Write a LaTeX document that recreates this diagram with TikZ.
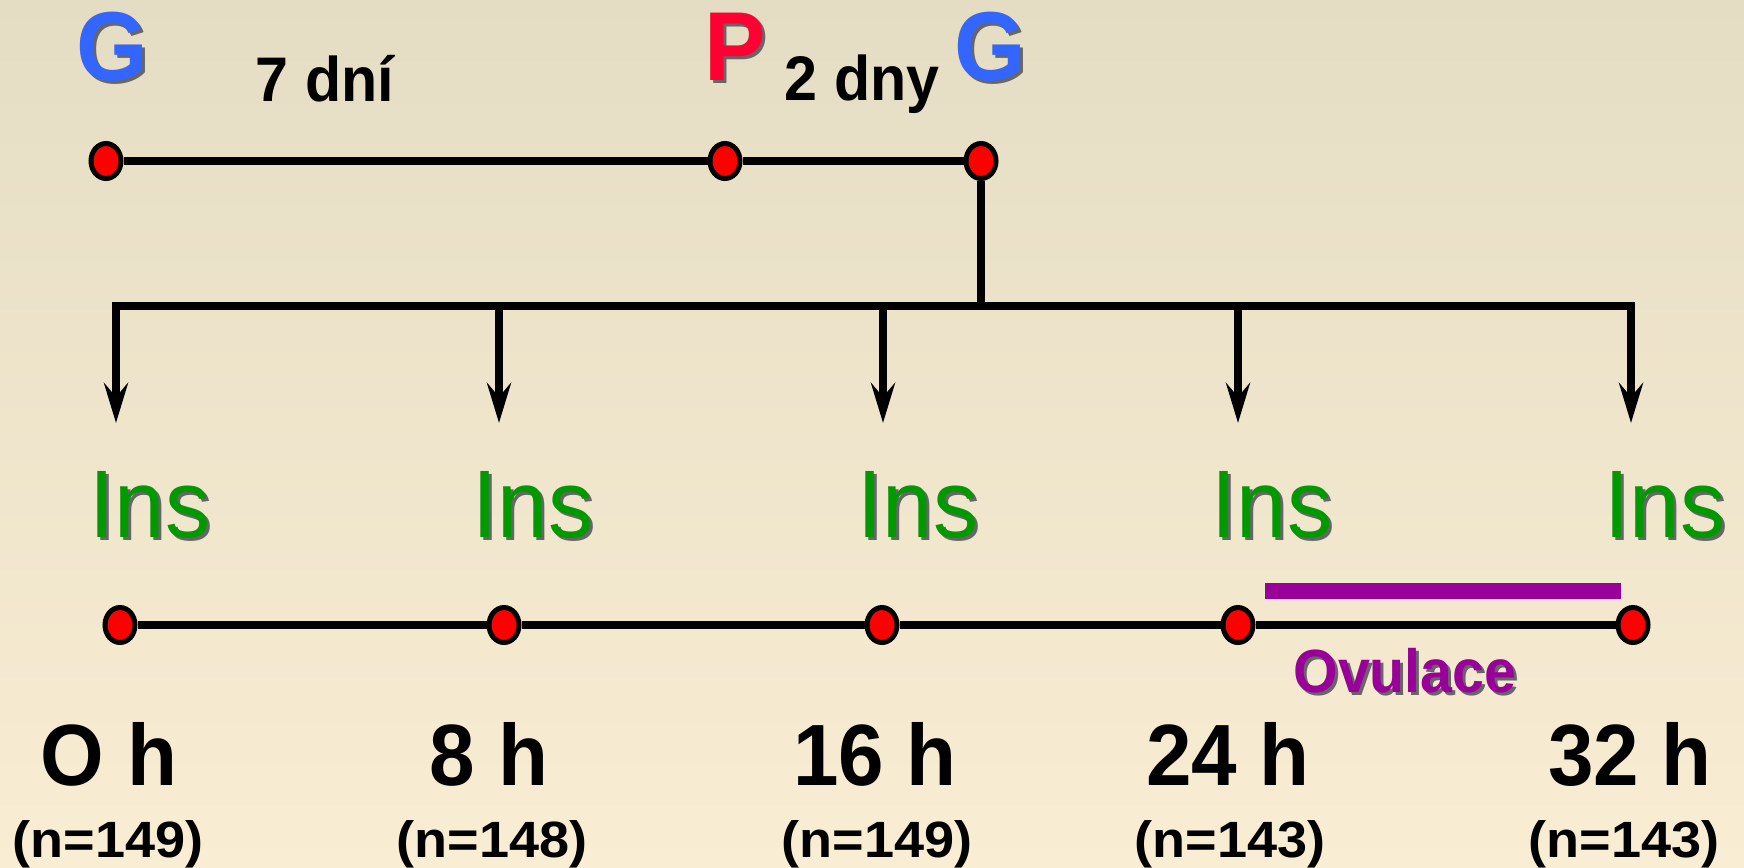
\documentclass[tikz,border=0pt]{standalone}
\usepackage{fontspec}
\setmainfont{Liberation Sans}[FakeStretch=0.94]
\newfontfamily\widefont{Liberation Sans}[FakeStretch=1.06]
\usetikzlibrary{shapes.geometric,arrows.meta}
\definecolor{bgtop}{HTML}{E4DDC4}
\definecolor{bgbot}{HTML}{F9EDD3}
\definecolor{gblue}{HTML}{3366FF}
\definecolor{pred}{HTML}{FF0033}
\definecolor{insgreen}{HTML}{009900}
\definecolor{ovpurple}{HTML}{990099}
\definecolor{dotred}{HTML}{FF0000}
\newcommand{\shad}[2]{\rlap{\kern3pt\raisebox{-3pt}{\color{black!60}#2}}{\color{#1}#2}}
\tikzset{
  dot/.style={ellipse, draw=black, fill=dotred, line width=5pt, minimum width=30pt, minimum height=35pt, inner sep=0pt},
  tline/.style={line width=8.5pt},
  arr/.style={line width=8.5pt, -{Stealth[length=40pt,width=24pt,inset=14pt]}},
  lbl/.style={anchor=base, inner sep=0pt},
  bigletter/.style={lbl, font=\fontsize{98}{98}\selectfont\bfseries},
  daytext/.style={lbl, font=\fontsize{63}{63}\selectfont\bfseries},
  instext/.style={lbl, font=\fontsize{96}{96}\selectfont},
  timetext/.style={lbl, font=\fontsize{87}{87}\selectfont\bfseries},
  ntext/.style={lbl, font=\widefont\fontsize{51}{51}\selectfont\bfseries},
  ovtext/.style={lbl, font=\fontsize{61}{61}\selectfont\bfseries}
}
\begin{document}
\begin{tikzpicture}[x=1pt,y=-1pt]
\useasboundingbox (0,0) rectangle (1744,867);
\shade[top color=bgtop, bottom color=bgbot] (0,0) rectangle (1744,867);

% top labels
\node[bigletter] (g1) at (112,80) {\shad{gblue}{G}};
\node[daytext] (d7) at (325,101) {7 dní};
\node[bigletter] (p) at (735,80) {\shad{pred}{P}};
\node[daytext] (d2) at (862,100) {2 dny};
\node[bigletter] (g2) at (990,80) {\shad{gblue}{G}};

% top timeline
\node[dot] (t1) at (106,161) {};
\node[dot] (t2) at (725,161) {};
\node[dot] (t3) at (981,161) {};
\draw[tline] (t1) -- (t2);
\draw[tline] (t2) -- (t3);

% branching
\coordinate (bar) at (981,306);
\coordinate (a1) at (116,423);
\coordinate (a2) at (499,423);
\coordinate (a3) at (883,423);
\coordinate (a4) at (1238,423);
\coordinate (a5) at (1631,423);
\draw[tline] (t3) -- (bar);
\draw[arr] (bar) -| (a1);
\draw[arr] (bar) -| (a5);
\draw[arr] (a2 |- bar) -- (a2);
\draw[arr] (a3 |- bar) -- (a3);
\draw[arr] (a4 |- bar) -- (a4);

% Ins labels
\node[instext] (i1) at (150,537) {\shad{insgreen}{Ins}};
\node[instext] (i2) at (533,537) {\shad{insgreen}{Ins}};
\node[instext] (i3) at (918,537) {\shad{insgreen}{Ins}};
\node[instext] (i4) at (1272,537) {\shad{insgreen}{Ins}};
\node[instext] (i5) at (1665,537) {\shad{insgreen}{Ins}};

% ovulation bar
\fill[ovpurple] (1265,583) rectangle (1621,599);
\node[ovtext] (ov) at (1405,692) {\shad{ovpurple}{Ovulace}};

% bottom timeline
\node[dot] (b1) at (120,625) {};
\node[dot] (b2) at (504,625) {};
\node[dot] (b3) at (882,625) {};
\node[dot] (b4) at (1238,625) {};
\node[dot] (b5) at (1633,625) {};
\draw[tline] (b1) -- (b2);
\draw[tline] (b2) -- (b3);
\draw[tline] (b3) -- (b4);
\draw[tline] (b4) -- (b5);

% time labels
\node[timetext] (h0) at (109,785) {O h};
\node[timetext] (h8) at (489,785) {8 h};
\node[timetext] (h16) at (875,785) {16 h};
\node[timetext] (h24) at (1228,785) {24 h};
\node[timetext] (h32) at (1630,785) {32 h};

\node[ntext] (n0) at (108,857) {(n=149)};
\node[ntext] (n8) at (492,857) {(n=148)};
\node[ntext] (n16) at (877,857) {(n=149)};
\node[ntext] (n24) at (1230,857) {(n=143)};
\node[ntext] (n32) at (1624,857) {(n=143)};
\end{tikzpicture}
\end{document}
